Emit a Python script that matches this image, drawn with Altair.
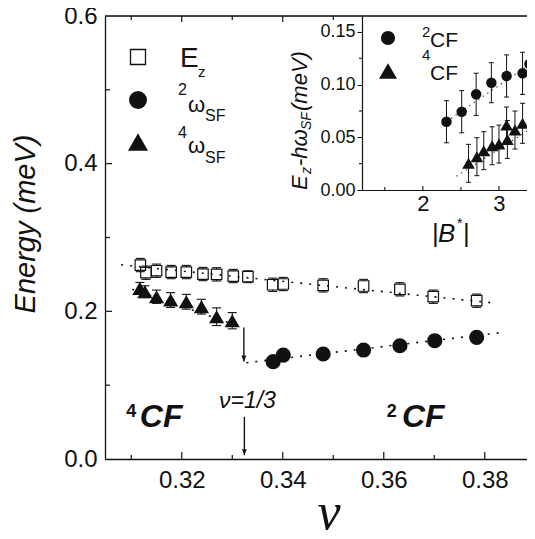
import altair as alt
import pandas as pd

# ---------------- main panel data ----------------
nu_ez = [0.3118, 0.3129, 0.3150, 0.3179, 0.3209, 0.3242, 0.3269, 0.3302,
         0.3331, 0.3380, 0.3401, 0.3480, 0.3560, 0.3632, 0.3698, 0.3784]
ez = [0.2627, 0.2523, 0.2550, 0.2532, 0.2532, 0.2505, 0.2501, 0.2478,
      0.2469, 0.2360, 0.2370, 0.2352, 0.2343, 0.2298, 0.2198, 0.2144]
ez_err = [0.009, 0.009, 0.009, 0.009, 0.009, 0.009, 0.009, 0.009,
          0.008, 0.009, 0.009, 0.009, 0.009, 0.009, 0.009, 0.009]

nu_4 = [0.3117, 0.3127, 0.3150, 0.3178, 0.3209, 0.3239, 0.3269, 0.3300]
w4 = [0.2311, 0.2266, 0.2198, 0.2153, 0.2130, 0.2063, 0.1927, 0.1873]
w4_err = [0.008, 0.008, 0.009, 0.010, 0.010, 0.010, 0.012, 0.011]

nu_2 = [0.3381, 0.3401, 0.3480, 0.3560, 0.3632, 0.3701, 0.3784]
w2 = [0.1318, 0.1408, 0.1422, 0.1476, 0.1534, 0.1602, 0.1648]

fit_ez_nu = [0.3080, 0.3823]
fit_ez_e = [0.2630, 0.2110]
fit_4_nu = [0.3102, 0.3321]
fit_4_e = [0.2298, 0.1780]
fit_2_nu = [0.3328, 0.3830]
fit_2_e = [0.1304, 0.1710]

jump_nu = [0.3323]
jump_top = [0.178]
jump_bottom = [0.132]
half_nu = [0.3324]
half_top = [0.057]
half_bottom = [0.005]

x_major = [0.32, 0.34, 0.36, 0.38]
x_minor = [0.31, 0.33, 0.35, 0.37]
top_major = [0.32, 0.34]
top_minor = [0.31, 0.33, 0.35]
y_major = [0.0, 0.2, 0.4, 0.6]
y_minor_ticks = [0.1, 0.3, 0.5]
y_major_ticks = [0.2, 0.4]

# ---------------- inset data ----------------
b_2 = [2.31, 2.51, 2.70, 2.90, 3.10, 3.31, 3.40]
d_2 = [0.0648, 0.0743, 0.0908, 0.1018, 0.1082, 0.1107, 0.1195]
d_2_err = [0.020, 0.020, 0.020, 0.019, 0.020, 0.020, 0.020]
b_4 = [2.60, 2.71, 2.80, 2.91, 3.00, 3.11, 3.10, 3.21, 3.31]
d_4 = [0.0253, 0.0316, 0.0373, 0.0420, 0.0436, 0.0480, 0.0617, 0.0569, 0.0633]
d_4_err = [0.018, 0.018, 0.018, 0.018, 0.018, 0.018, 0.017, 0.018, 0.019]
fit_i2_b = [2.25, 3.46]
fit_i2_d = [0.062, 0.122]
fit_i4_b = [2.44, 3.46]
fit_i4_d = [0.013, 0.060]

bi_major = [2, 3]
bi_minor = [1.5, 2.5]
di_major = [0.0, 0.05, 0.10, 0.15]
di_minor = [0.025, 0.075, 0.125]

# ---------------- layout constants ----------------
W, H = 422, 443
PAD_L, PAD_T = 97, 8
FONT = "Liberation Sans"
BLK = "#111111"
INX0, INX1, INY = 257, 422, 174  # inset box in plot-area pixels

xs = alt.Scale(domain=[0.3048, 0.3048 + W / 5050], nice=False, zero=False)
ys = alt.Scale(domain=[0.0, 0.6], nice=False, zero=False)
ax_x = alt.Axis(values=x_major, format=".2f", ticks=False, tickSize=0, labelPadding=9,
                labelFontSize=24, labelFont=FONT, labelColor=BLK, labelFlush=False,
                domainColor=BLK, domainWidth=1.3, grid=False, title=None, labelOverlap=False)
ax_y = alt.Axis(values=y_major, format=".1f", ticks=False, tickSize=0, labelPadding=8,
                labelFontSize=24, labelFont=FONT, labelColor=BLK, labelFlush=False,
                domainColor=BLK, domainWidth=1.3, grid=False, title=None, labelOverlap=False)


def X(f):
    return alt.X(f, type="quantitative", scale=xs, axis=ax_x)


def Y(f):
    return alt.Y(f, type="quantitative", scale=ys, axis=ax_y)


xsi = alt.Scale(domain=[1.2, 1.2 + (INX1 - INX0) / 76.1], range=[INX0, INX1], nice=False, zero=False)
ysi = alt.Scale(domain=[0.0, INY / 1054.0], range=[INY, 0], nice=False, zero=False)
ax_xi = alt.Axis(orient="bottom", offset=-(H - INY), values=bi_major, format="d",
                 ticks=False, tickSize=0, labelPadding=3, labelFontSize=22, labelFont=FONT,
                 labelColor=BLK, labelFlush=False, domainColor=BLK, domainWidth=1.2,
                 grid=False, title=None)
ax_yi = alt.Axis(orient="left", offset=-INX0, values=di_major, format=".2f",
                 tickSize=5, tickColor=BLK, labelPadding=2, labelFontSize=18, labelFont=FONT,
                 labelColor=BLK, labelFlush=False, domainColor=BLK, domainWidth=1.2,
                 grid=False, title=None, labelOverlap=False)


def XI(f):
    return alt.X(f, type="quantitative", scale=xsi, axis=ax_xi)


def YI(f):
    return alt.Y(f, type="quantitative", scale=ysi, axis=ax_yi)


def ptext(x, y, s, size, style="normal", weight="normal", angle=0, align="left", font=FONT):
    return alt.Chart(pd.DataFrame({"t": [s]})).mark_text(
        font=font, fontSize=size, fontStyle=style, fontWeight=weight, angle=angle,
        align=align, baseline="alphabetic", color=BLK
    ).encode(x=alt.value(x), y=alt.value(y), text="t:N")


def dtext(xv, yv, s, size, style="normal", weight="normal", align="left", font=FONT):
    return alt.Chart(pd.DataFrame({"x": [xv], "y": [yv], "t": [s]})).mark_text(
        font=font, fontSize=size, fontStyle=style, fontWeight=weight,
        align=align, baseline="alphabetic", color=BLK
    ).encode(x=X("x"), y=Y("y"), text="t:N")


def psym(x, y, shape, size, filled=True):
    return alt.Chart(pd.DataFrame({"a": [0]})).mark_point(
        shape=shape, size=size, filled=filled, color=BLK, opacity=1, strokeWidth=1.3
    ).encode(x=alt.value(x), y=alt.value(y))


# ---------------- main panel ----------------
df_ez = pd.DataFrame({"nu": nu_ez, "e": ez,
                      "lo": [a - b for a, b in zip(ez, ez_err)],
                      "hi": [a + b for a, b in zip(ez, ez_err)]})
df_4 = pd.DataFrame({"nu": nu_4, "e": w4,
                     "lo": [a - b for a, b in zip(w4, w4_err)],
                     "hi": [a + b for a, b in zip(w4, w4_err)]})
df_2 = pd.DataFrame({"nu": nu_2, "e": w2})
caps_ez = pd.DataFrame({"nu": nu_ez + nu_ez, "c": list(df_ez["lo"]) + list(df_ez["hi"])})
caps_4 = pd.DataFrame({"nu": nu_4 + nu_4, "c": list(df_4["lo"]) + list(df_4["hi"])})
df_fit = pd.DataFrame({"nu": fit_ez_nu + fit_4_nu + fit_2_nu,
                       "e": fit_ez_e + fit_4_e + fit_2_e,
                       "g": ["ez", "ez", "w4", "w4", "w2", "w2"]})

fits = alt.Chart(df_fit).mark_line(strokeDash=[2, 7], strokeWidth=1.6, color=BLK).encode(
    x=X("nu"), y=Y("e"), detail="g:N")
ez_up = alt.Chart(df_ez).mark_rule(color=BLK, strokeWidth=1, y2Offset=-5).encode(
    x=X("nu"), y=Y("hi"), y2="e")
ez_dn = alt.Chart(df_ez).mark_rule(color=BLK, strokeWidth=1, y2Offset=5).encode(
    x=X("nu"), y=Y("lo"), y2="e")
ez_cap = alt.Chart(caps_ez).mark_tick(orient="horizontal", size=9, thickness=1.1, color=BLK,
                                      opacity=1).encode(x=X("nu"), y=Y("c"))
w4_bar = alt.Chart(df_4).mark_rule(color=BLK, strokeWidth=1).encode(
    x=X("nu"), y=Y("lo"), y2="hi")
w4_cap = alt.Chart(caps_4).mark_tick(orient="horizontal", size=9, thickness=1.1, color=BLK,
                                     opacity=1).encode(x=X("nu"), y=Y("c"))
sq = alt.Chart(df_ez).mark_point(shape="square", size=110, filled=False, color=BLK,
                                 opacity=1, strokeWidth=1.2).encode(x=X("nu"), y=Y("e"))
tri = alt.Chart(df_4).mark_point(shape="triangle-up", size=230, filled=True, color=BLK,
                                 opacity=1).encode(x=X("nu"), y=Y("e"))
circ = alt.Chart(df_2).mark_point(shape="circle", size=230, filled=True, color=BLK,
                                  opacity=1).encode(x=X("nu"), y=Y("e"))

ARROW = "M-0.4,-1L0.4,-1L0,0Z"
df_jump = pd.DataFrame({"nu": jump_nu, "t": jump_top, "b": jump_bottom})
df_half = pd.DataFrame({"nu": half_nu, "t": half_top, "b": half_bottom})
jump_line = alt.Chart(df_jump).mark_rule(color=BLK, strokeWidth=1.4).encode(
    x=X("nu"), y=Y("t"), y2="b")
jump_head = alt.Chart(df_jump).mark_point(shape=ARROW, size=144, filled=True, color=BLK,
                                          opacity=1).encode(x=X("nu"), y=Y("b"))
half_line = alt.Chart(df_half).mark_rule(color=BLK, strokeWidth=1.4).encode(
    x=X("nu"), y=Y("t"), y2="b")
half_head = alt.Chart(df_half).mark_point(shape=ARROW, size=144, filled=True, color=BLK,
                                          opacity=1).encode(x=X("nu"), y=Y("b"))

# inward ticks of the main frame
t_xmaj = alt.Chart(pd.DataFrame({"v": x_major})).mark_rule(color=BLK, strokeWidth=1.2).encode(
    x=X("v"), y=alt.value(H), y2=alt.value(H - 7))
t_xmin = alt.Chart(pd.DataFrame({"v": x_minor})).mark_rule(color=BLK, strokeWidth=1.2).encode(
    x=X("v"), y=alt.value(H), y2=alt.value(H - 4))
t_tmaj = alt.Chart(pd.DataFrame({"v": top_major})).mark_rule(color=BLK, strokeWidth=1.2).encode(
    x=X("v"), y=alt.value(0), y2=alt.value(6))
t_tmin = alt.Chart(pd.DataFrame({"v": top_minor})).mark_rule(color=BLK, strokeWidth=1.2).encode(
    x=X("v"), y=alt.value(0), y2=alt.value(4))
t_ymaj = alt.Chart(pd.DataFrame({"v": y_major_ticks})).mark_rule(color=BLK, strokeWidth=1.2).encode(
    y=Y("v"), x=alt.value(0), x2=alt.value(7))
t_ymin = alt.Chart(pd.DataFrame({"v": y_minor_ticks})).mark_rule(color=BLK, strokeWidth=1.2).encode(
    y=Y("v"), x=alt.value(0), x2=alt.value(5))
top_spine = alt.Chart(pd.DataFrame({"a": [0]})).mark_rule(color=BLK, strokeWidth=1.3).encode(
    x=alt.value(0), x2=alt.value(W), y=alt.value(0))

main_texts = [
    dtext(0.3330, 0.0685, "ν=1/3", 23, style="italic", align="center"),
    dtext(0.3117, 0.0437, "CF", 32, style="italic", weight="bold"),
    dtext(0.3090, 0.0572, "4", 18, weight="bold"),
    dtext(0.3636, 0.0437, "CF", 32, style="italic", weight="bold"),
    dtext(0.3606, 0.0572, "2", 18, weight="bold"),
    # legend
    psym(33, 41, "square", 225, filled=False),
    psym(33, 84, "circle", 324),
    psym(33, 126, "triangle-up", 400),
    ptext(75, 51, "E", 28),
    ptext(93, 61, "z", 15),
    ptext(73, 79, "2", 16),
    ptext(83, 96, "ω", 22),
    ptext(100, 105, "SF", 16),
    ptext(73, 122, "4", 16),
    ptext(83, 137, "ω", 22),
    ptext(100, 147, "SF", 16),
    # axis titles
    ptext(-70, 208, "Energy (meV)", 29, style="italic", angle=270, align="center"),
    ptext(224, 513, "ν", 52, style="italic", align="center", font="Liberation Serif"),
]

main = alt.layer(fits, ez_up, ez_dn, ez_cap, w4_bar, w4_cap, sq, tri, circ,
                 jump_line, jump_head, half_line, half_head,
                 t_xmaj, t_xmin, t_tmaj, t_tmin, t_ymaj, t_ymin, top_spine, *main_texts)

# ---------------- inset ----------------
df_i2 = pd.DataFrame({"b": b_2, "d": d_2,
                      "lo": [a - e for a, e in zip(d_2, d_2_err)],
                      "hi": [a + e for a, e in zip(d_2, d_2_err)]})
df_i4 = pd.DataFrame({"b": b_4, "d": d_4,
                      "lo": [a - e for a, e in zip(d_4, d_4_err)],
                      "hi": [a + e for a, e in zip(d_4, d_4_err)]})
caps_i = pd.DataFrame({"b": b_2 + b_2 + b_4 + b_4,
                       "c": list(df_i2["lo"]) + list(df_i2["hi"]) + list(df_i4["lo"]) + list(df_i4["hi"])})
bars_i = pd.concat([df_i2, df_i4], ignore_index=True)
df_ifit = pd.DataFrame({"b": fit_i2_b + fit_i4_b, "d": fit_i2_d + fit_i4_d,
                        "g": ["a", "a", "b", "b"]})

i_fit = alt.Chart(df_ifit).mark_line(strokeDash=[1.5, 4], strokeWidth=1.1, color="#444").encode(
    x=XI("b"), y=YI("d"), detail="g:N")
i_bar = alt.Chart(bars_i).mark_rule(color=BLK, strokeWidth=1).encode(
    x=XI("b"), y=YI("lo"), y2="hi")
i_cap = alt.Chart(caps_i).mark_tick(orient="horizontal", size=5, thickness=1, color=BLK,
                                    opacity=1).encode(x=XI("b"), y=YI("c"))
i_circ = alt.Chart(df_i2).mark_point(shape="circle", size=110, filled=True, color=BLK,
                                     opacity=1).encode(x=XI("b"), y=YI("d"))
i_tri = alt.Chart(df_i4).mark_point(shape="triangle-up", size=160, filled=True, color=BLK,
                                    opacity=1).encode(x=XI("b"), y=YI("d"))
i_txmaj = alt.Chart(pd.DataFrame({"v": bi_major})).mark_rule(color=BLK, strokeWidth=1.1).encode(
    x=XI("v"), y=alt.value(INY), y2=alt.value(INY - 4))
i_txmin = alt.Chart(pd.DataFrame({"v": bi_minor})).mark_rule(color=BLK, strokeWidth=1.1).encode(
    x=XI("v"), y=alt.value(INY), y2=alt.value(INY - 3))
i_tymin = alt.Chart(pd.DataFrame({"v": di_minor})).mark_rule(color=BLK, strokeWidth=1.1).encode(
    y=YI("v"), x=alt.value(INX0), x2=alt.value(INX0 - 3))

inset_texts = [
    psym(283, 22, "circle", 200),
    psym(283, 55, "triangle-up", 324),
    ptext(317, 21, "2", 15),
    ptext(325, 31, "CF", 21),
    ptext(317, 44, "4", 15),
    ptext(325, 64, "CF", 21),
    # inset y title
    ptext(202, 174, "E", 22, style="italic", angle=270),
    ptext(206, 158, "z", 14, style="italic", angle=270),
    ptext(202, 150, "-hω", 22, style="italic", angle=270),
    ptext(206, 114, "SF", 14, style="italic", angle=270),
    ptext(202, 95, "(meV)", 22, style="italic", angle=270),
    # inset x title
    ptext(327, 226, "|", 26),
    ptext(333, 226, "B", 26, style="italic"),
    ptext(352, 212, "*", 14),
    ptext(358, 226, "|", 26),
]

inset = alt.layer(i_fit, i_bar, i_cap, i_circ, i_tri, i_txmaj, i_txmin, i_tymin, *inset_texts)

chart = alt.layer(main, inset).resolve_scale(x="independent", y="independent").properties(
    width=W, height=H, autosize="none",
    padding={"left": PAD_L, "top": PAD_T, "right": 0, "bottom": 72}
).configure_view(stroke=None).configure(background="white")

chart.save("out.html", embed_options={"renderer": "svg", "actions": False})
